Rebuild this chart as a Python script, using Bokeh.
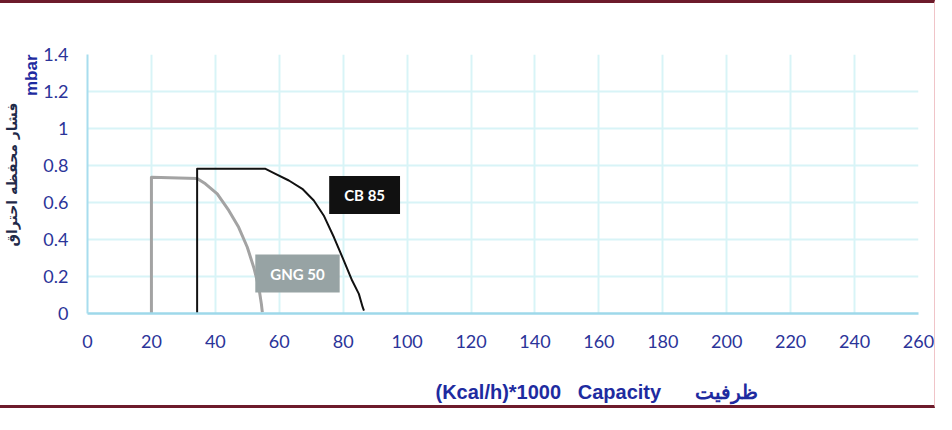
from bokeh.plotting import figure
from bokeh.models import Label, FixedTicker, NumeralTickFormatter, Range1d, Title
from bokeh.embed import file_html
from bokeh.resources import INLINE

# ---- data ----
x_ticks = [0, 20, 40, 60, 80, 100, 120, 140, 160, 180, 200, 220, 240, 260]
y_ticks = [0, 0.2, 0.4, 0.6, 0.8, 1.0, 1.2, 1.4]

gng_x = [20, 20, 34.3, 36.9, 40.6, 44.2, 47.3, 50.0, 52.0, 53.6, 54.4, 54.7]
gng_y = [0, 0.737, 0.730, 0.701, 0.647, 0.557, 0.466, 0.358, 0.25, 0.142, 0.052, 0.007]

cb_x = [34.3, 34.3, 55.7, 58.8, 63.0, 67.2, 70.8, 73.9, 77.1, 80.2, 82.8, 84.9, 86.1, 86.5]
cb_y = [0, 0.782, 0.782, 0.755, 0.719, 0.674, 0.611, 0.53, 0.412, 0.286, 0.178, 0.106, 0.034, 0.016]

series_names = ["CB 85", "GNG 50"]
label_x = [86.7, 65.7]
label_y = [0.64, 0.216]

NB = "\u00a0"
x_title = "(Kcal/h)*1000" + NB * 3 + "Capacity" + NB * 6 + "ظرفیت"
y_title = "mbar"
y_title_fa = "فشار محفظه احتراق"

TICK_BLUE = "#2B3499"
TITLE_BLUE = "#1E2BA0"
NAVY = "#1F2A4A"

p = figure(width=935, height=408, output_backend="svg", toolbar_location=None,
           x_range=Range1d(0, 260), y_range=Range1d(0, 1.4),
           min_border_left=87, min_border_right=17, min_border_top=51,
           min_border_bottom=98)
p.styles = {"border-top": "3px solid #6d1b2b", "border-bottom": "3px solid #6d1b2b",
            "border-right": "1px solid #f0c4c8"}
p.outline_line_color = None
p.background_fill_color = "white"
p.border_fill_color = "white"

p.xaxis.ticker = FixedTicker(ticks=x_ticks)
p.yaxis.ticker = FixedTicker(ticks=y_ticks)
p.yaxis.formatter = NumeralTickFormatter(format="0.[0]")
for ax in (p.xaxis, p.yaxis):
    ax.major_tick_line_color = None
    ax.minor_tick_line_color = None
    ax.major_tick_out = 0
    ax.major_tick_in = 0
    ax.minor_tick_out = 0
    ax.minor_tick_in = 0
    ax.major_label_text_font = "Lato"
    ax.major_label_text_font_size = "18px"
    ax.major_label_text_color = TICK_BLUE
ax = p.xaxis[0]
ax.axis_line_color = "#9ED8EA"
ax.axis_line_width = 2.5
ax.major_label_standoff = 21
# spacer that sets the distance of the x title below the tick labels
ax.axis_label = NB
ax.axis_label_text_font_size = "10px"
ax.axis_label_standoff = 14
ay = p.yaxis[0]
ay.axis_line_color = "#A8DDEE"
ay.axis_line_width = 2
ay.major_label_standoff = 19

p.xgrid.grid_line_color = "#D8F4F7"
p.ygrid.grid_line_color = "#D8F4F7"
p.xgrid.grid_line_width = 2
p.ygrid.grid_line_width = 2

p.line(gng_x, gng_y, line_color="#A3A3A3", line_width=3, line_join="round")
p.line(cb_x, cb_y, line_color="#111111", line_width=2, line_join="round")

box_colors = ["#111111", "#97A3A4"]
for name, lx, ly, bc in zip(series_names, label_x, label_y, box_colors):
    p.add_layout(Label(x=lx, y=ly, text=name, text_align="center", text_baseline="middle",
                       text_color="white", text_font="Lato", text_font_style="bold",
                       text_font_size="15px", background_fill_color=bc,
                       padding=dict(left=15, right=15, top=10, bottom=10)))

# axis titles
p.add_layout(Title(text=x_title, align="left", offset=348, standoff=0,
                   text_color=TITLE_BLUE, text_font="Liberation Sans",
                   text_font_style="bold", text_font_size="20px"), "below")
p.add_layout(Title(text=y_title, align="right", offset=0, standoff=0,
                   text_color=TITLE_BLUE, text_font="Liberation Sans",
                   text_font_style="bold", text_font_size="17px"), "left")
p.add_layout(Title(text=y_title_fa, align="right", offset=48, standoff=0,
                   text_color=NAVY, text_font="DejaVu Sans",
                   text_font_style="bold", text_font_size="14px"), "left")

open("out.html", "w").write(file_html(p, INLINE))
